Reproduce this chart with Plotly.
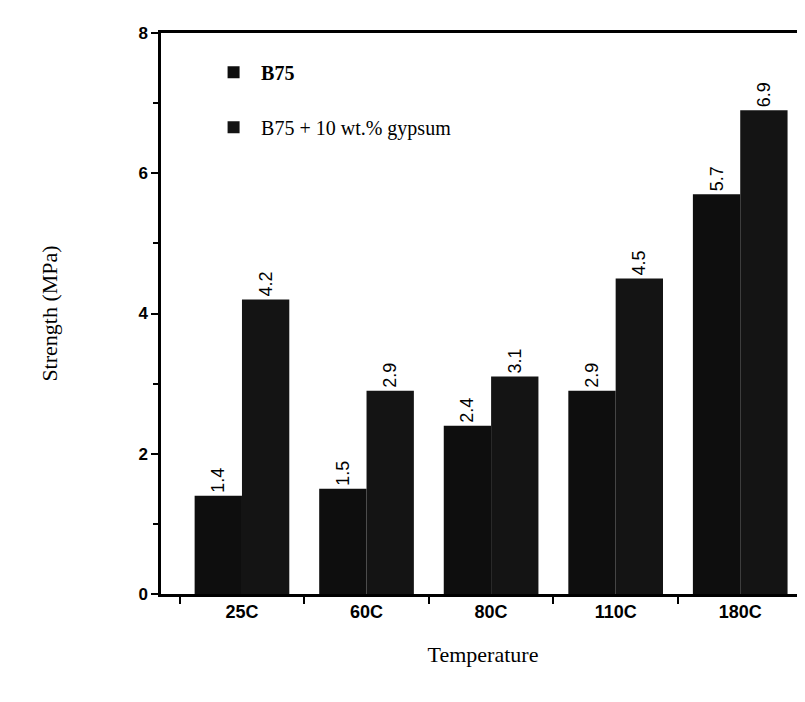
import plotly.graph_objects as go

categories = ["25C", "60C", "80C", "110C", "180C"]
b75 = [1.4, 1.5, 2.4, 2.9, 5.7]
b75_gypsum = [4.2, 2.9, 3.1, 4.5, 6.9]
labels_b75 = ["1.4", "1.5", "2.4", "2.9", "5.7"]
labels_gyp = ["4.2", "2.9", "3.1", "4.5", "6.9"]
y_ticks = [0, 2, 4, 6, 8]

sans = "Liberation Sans"
serif = "Liberation Serif"

fig = go.Figure()
fig.add_trace(go.Bar(
    x=categories, y=b75, name="<b>B75</b>", text=labels_b75,
    textposition="outside", textangle=-90, cliponaxis=False,
    textfont=dict(family=sans, size=18, color="black"),
    marker=dict(color="#0e0e0e", line=dict(width=0)),
    legendgroup="a",
))
fig.add_trace(go.Bar(
    x=categories, y=b75_gypsum, name="B75 + 10 wt.% gypsum", text=labels_gyp,
    textposition="outside", textangle=-90, cliponaxis=False,
    textfont=dict(family=sans, size=18, color="black"),
    marker=dict(color="#141414", line=dict(width=0)),
    legendgroup="b",
))

fig.update_layout(
    width=805, height=702,
    margin=dict(l=153, r=8, t=25, b=116, autoexpand=False),
    paper_bgcolor="white", plot_bgcolor="white",
    barmode="group", bargap=0.24, bargroupgap=0,
    showlegend=True,
    legend=dict(
        x=0.07, y=0.965, xanchor="left", yanchor="top",
        font=dict(family=serif, size=20, color="black"),
        bgcolor="rgba(0,0,0,0)", traceorder="grouped", tracegroupgap=26,
        itemwidth=45,
    ),
    xaxis=dict(
        type="category", range=[-0.65, 4.52], automargin=False,
        showline=True, linecolor="black", linewidth=2.5, mirror=True,
        ticks="outside", tickson="boundaries", ticklen=7, tickwidth=2, tickcolor="black",
        tickfont=dict(family=sans, size=18, color="black", weight="bold"),
        title=dict(text="Temperature", font=dict(family=serif, size=22, color="black"), standoff=26),
        showgrid=False,
    ),
    yaxis=dict(
        range=[0, 8], tickvals=y_ticks, automargin=False,
        showline=True, linecolor="black", linewidth=2.5, mirror=True,
        ticks="outside", ticklen=7, tickwidth=2, tickcolor="black",
        tickfont=dict(family=sans, size=17, color="black", weight="bold"),
        minor=dict(tickvals=[1, 3, 5, 7], ticks="outside", ticklen=5, tickwidth=2, tickcolor="black"),
        title=dict(text="Strength (MPa)", font=dict(family=serif, size=22, color="black"), standoff=75),
        showgrid=False, zeroline=False,
    ),
)

fig.write_html("out.html")
